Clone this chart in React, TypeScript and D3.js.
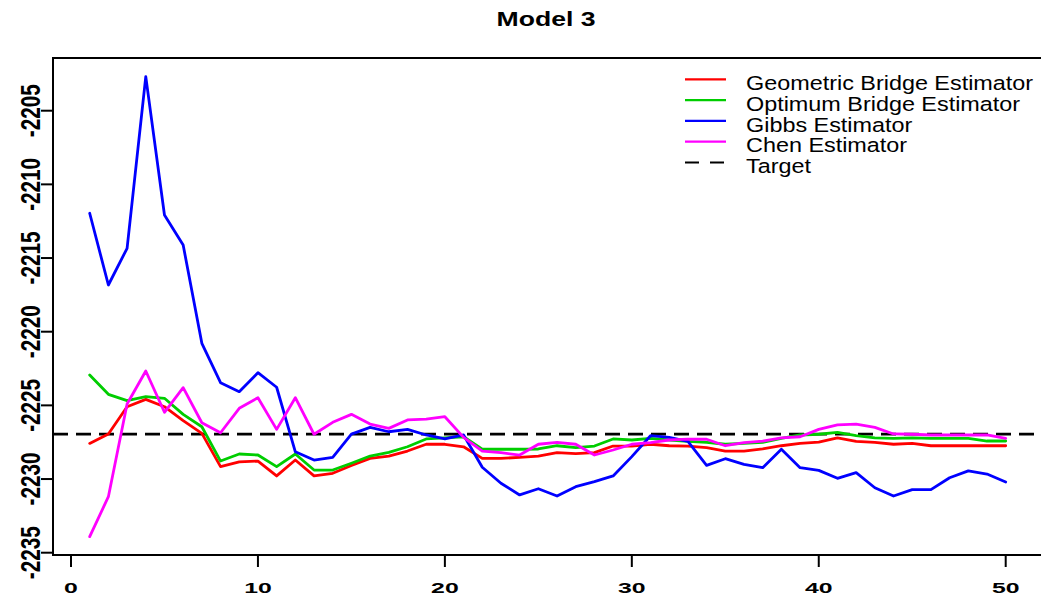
import React from "react";
import * as d3 from "d3";

const iterations = d3.range(1, 51);

const geometric = [
  -2227.58, -2226.94, -2225.09, -2224.59, -2225.09, -2226.04, -2226.9, -2229.16, -2228.84, -2228.78,
  -2229.79, -2228.71, -2229.79, -2229.61, -2229.08, -2228.6, -2228.44, -2228.1, -2227.64, -2227.64,
  -2227.81, -2228.6, -2228.6, -2228.53, -2228.44, -2228.21, -2228.28, -2228.21, -2227.76, -2227.76,
  -2227.64, -2227.74, -2227.76, -2227.87, -2228.1, -2228.1, -2227.96, -2227.74, -2227.58, -2227.49,
  -2227.2, -2227.44, -2227.51, -2227.64, -2227.58, -2227.74, -2227.74, -2227.74, -2227.74, -2227.74,
];

const optimum = [
  -2222.94, -2224.25, -2224.68, -2224.41, -2224.52, -2225.61, -2226.45, -2228.78, -2228.3, -2228.37,
  -2229.16, -2228.3, -2229.39, -2229.39, -2228.93, -2228.44, -2228.19, -2227.81, -2227.28, -2227.2,
  -2227.13, -2227.98, -2227.98, -2227.98, -2227.96, -2227.74, -2227.87, -2227.76, -2227.28, -2227.35,
  -2227.24, -2227.35, -2227.44, -2227.51, -2227.64, -2227.58, -2227.51, -2227.24, -2227.01, -2226.96,
  -2226.83, -2227.06, -2227.2, -2227.24, -2227.2, -2227.24, -2227.24, -2227.24, -2227.42, -2227.42,
];

const gibbs = [
  -2211.96, -2216.83, -2214.34, -2202.69, -2212.08, -2214.12, -2220.79, -2223.46, -2224.07, -2222.78,
  -2223.77, -2228.15, -2228.71, -2228.53, -2226.95, -2226.49, -2226.79, -2226.63, -2227.01, -2227.28,
  -2227.01, -2229.2, -2230.29, -2231.08, -2230.66, -2231.15, -2230.52, -2230.18, -2229.79, -2228.48,
  -2227.06, -2227.17, -2227.44, -2229.07, -2228.62, -2229.0, -2229.23, -2227.98, -2229.23, -2229.41,
  -2229.95, -2229.57, -2230.59, -2231.15, -2230.72, -2230.72, -2229.91, -2229.45, -2229.66, -2230.2,
];

const chen = [
  -2233.91, -2231.2, -2224.91, -2222.67, -2225.47, -2223.8, -2226.18, -2226.86, -2225.2, -2224.48,
  -2226.63, -2224.48, -2226.96, -2226.15, -2225.61, -2226.27, -2226.56, -2225.99, -2225.93, -2225.77,
  -2227.17, -2228.1, -2228.21, -2228.37, -2227.64, -2227.51, -2227.64, -2228.37, -2228.03, -2227.64,
  -2227.53, -2227.35, -2227.29, -2227.3, -2227.74, -2227.53, -2227.42, -2227.2, -2227.13, -2226.63,
  -2226.33, -2226.27, -2226.49, -2226.94, -2226.96, -2227.01, -2227.01, -2227.01, -2227.01, -2227.24,
];

const target = -2226.95;

const xTicks = [0, 10, 20, 30, 40, 50];
const yTicks = [-2235, -2230, -2225, -2220, -2215, -2210, -2205];

const seriesNames = [
  "Geometric Bridge Estimator",
  "Optimum Bridge Estimator",
  "Gibbs Estimator",
  "Chen Estimator",
  "Target",
];
const seriesColors = ["#FF0000", "#00CD00", "#0000FF", "#FF00FF", "#000000"];
const seriesValues = [geometric, optimum, gibbs, chen];

const W = 1041;
const H = 602;
const FONT = "'Liberation Sans', Arial, Helvetica, sans-serif";

export default function App() {
  const box = { left: 53, top: 58, right: 1042, bottom: 555 };
  const x = d3.scaleLinear().domain([0, 50]).range([71, 1005.7]);
  const y = d3.scaleLinear().domain([-2235, -2205]).range([552.7, 110.7]);

  const line = d3
    .line<number>()
    .x((_, i) => x(iterations[i]))
    .y((d) => y(d));

  const legendX1 = 685;
  const legendX2 = 726;
  const legendTextX = 746;

  return (
    <svg
      width={W}
      height={H}
      style={{ position: "absolute", left: 0, top: 0, display: "block", background: "#fff" }}
    >
      <defs>
        <clipPath id="plotclip">
          <rect x={box.left} y={box.top} width={box.right - box.left} height={box.bottom - box.top} />
        </clipPath>
      </defs>
      <text
        transform={`translate(546,26) scale(1.33,1)`}
        textAnchor="middle"
        fontFamily={FONT}
        fontWeight="bold"
        fontSize={20}
        fill="#000"
      >
        Model 3
      </text>

      <g clipPath="url(#plotclip)">
        <line
          x1={box.left}
          x2={box.right}
          y1={y(target)}
          y2={y(target)}
          stroke="#000"
          strokeWidth={2.8}
          strokeDasharray="15 8"
        />
        {seriesValues.map((vals, k) => (
          <path
            key={k}
            d={line(vals) || ""}
            fill="none"
            stroke={seriesColors[k]}
            strokeWidth={2.8}
            strokeLinejoin="round"
            strokeLinecap="round"
          />
        ))}
      </g>

      <rect
        x={box.left}
        y={box.top}
        width={box.right - box.left}
        height={box.bottom - box.top}
        fill="none"
        stroke="#000"
        strokeWidth={2}
      />

      {xTicks.map((t) => (
        <g key={`x${t}`}>
          <line x1={x(t)} x2={x(t)} y1={box.bottom} y2={box.bottom + 12} stroke="#000" strokeWidth={2} />
          <text
            transform={`translate(${x(t)},593) scale(1.6,1)`}
            textAnchor="middle"
            fontFamily={FONT}
            fontSize={15.5}
            fontWeight="bold"
            fill="#000"
          >
            {t}
          </text>
        </g>
      ))}

      {yTicks.map((t) => (
        <g key={`y${t}`}>
          <line x1={box.left} x2={box.left - 12} y1={y(t)} y2={y(t)} stroke="#000" strokeWidth={2} />
          <text
            transform={`translate(40,${y(t)}) rotate(-90) scale(0.74,1)`}
            textAnchor="middle"
            fontFamily={FONT}
            fontSize={28}
            fontWeight="bold"
            fill="#000"
          >
            {String(t)}
          </text>
        </g>
      ))}

      {seriesNames.map((name, i) => {
        const ly = 79.3 + i * 20.8;
        return (
          <g key={name}>
            <line
              x1={legendX1}
              x2={legendX2}
              y1={ly}
              y2={ly}
              stroke={seriesColors[i]}
              strokeWidth={2.2}
              strokeDasharray={i === 4 ? "14 11" : undefined}
            />
            <text
              transform={`translate(${legendTextX},${90 + i * 20.8}) scale(1.2,1)`}
              fontFamily={FONT}
              fontSize={19.5}
              fill="#000"
            >
              {name}
            </text>
          </g>
        );
      })}
    </svg>
  );
}
